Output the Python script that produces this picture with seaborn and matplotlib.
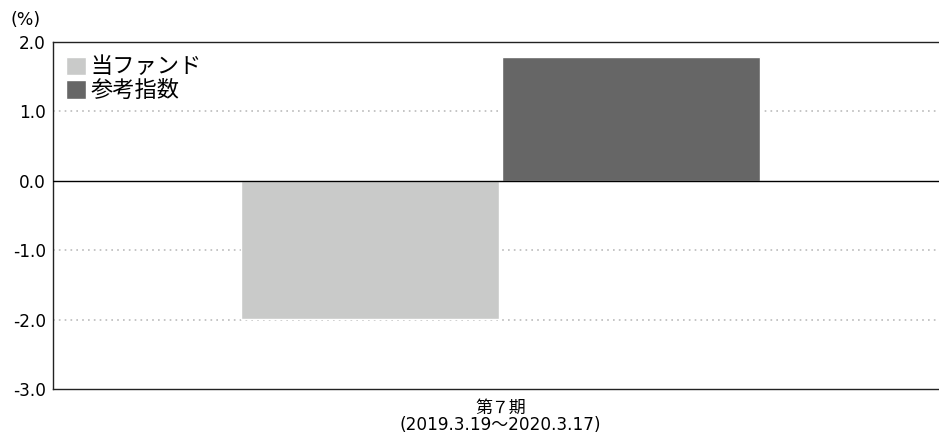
import seaborn as sns
import matplotlib.pyplot as plt
import pandas as pd

# values
periods = ["第７期\n(2019.3.19～2020.3.17)"]
series = ["当ファンド", "参考指数"]
fund_values = [-1.99]
index_values = [1.78]
colors = ["#c9cac9", "#666666"]
yticks = [-3.0, -2.0, -1.0, 0.0, 1.0, 2.0]

df = pd.DataFrame({
    "period": periods * 2,
    "series": [series[0]] * len(periods) + [series[1]] * len(periods),
    "value": fund_values + index_values,
})

sns.set_style("white", {"text.color": "black", "xtick.color": "black",
                        "ytick.color": "black"})
# wide latin digits first, CJK glyphs fall back to Noto
plt.rcParams["font.family"] = ["DejaVu Sans", "Noto Sans CJK JP"]

fig = plt.figure(figsize=(9.39, 4.34), dpi=100)
ax = fig.add_axes([0.0564, 0.1037, 0.9436, 0.7995])

sns.barplot(data=df, x="period", y="value", hue="series", palette=colors,
            width=0.59, gap=0.012, ax=ax, saturation=1, legend=True)

ax.set_ylim(-3.0, 2.0)
ax.set_xlim(-0.505, 0.495)
ax.set_yticks(yticks)
ax.set_yticklabels([f"{v:.1f}" for v in yticks], fontsize=12.2)
ax.set_xticks([0])
ax.set_xticklabels(periods, fontsize=12.2, linespacing=0.95)
ax.tick_params(axis="x", length=0, pad=7, labelcolor="black")
ax.tick_params(axis="y", length=0, pad=5, labelcolor="black")
ax.set_xlabel("")
ax.set_ylabel("")

for v in [-2.0, -1.0, 1.0]:
    ax.axhline(v, color="#bbbbbb", linestyle=(0, (1, 2.5)), linewidth=1.2, zorder=0)
ax.axhline(0, color="black", linewidth=1.0, zorder=3)

for side in ["left", "top", "bottom"]:
    ax.spines[side].set_color("#222222")
    ax.spines[side].set_linewidth(1.0)
ax.spines["right"].set_visible(False)

leg = ax.legend(loc="upper left", frameon=False, fontsize=16, handlelength=0.9,
                handleheight=0.9, handletextpad=0.2, labelspacing=0.12,
                borderaxespad=0, borderpad=0, bbox_to_anchor=(0.0147, 0.958))
for t in leg.get_texts():
    t.set_color("black")

fig.text(0.011, 0.954, "(%)", fontsize=12.5, ha="left", va="center", color="black")

fig.savefig("out.png", dpi=100)
